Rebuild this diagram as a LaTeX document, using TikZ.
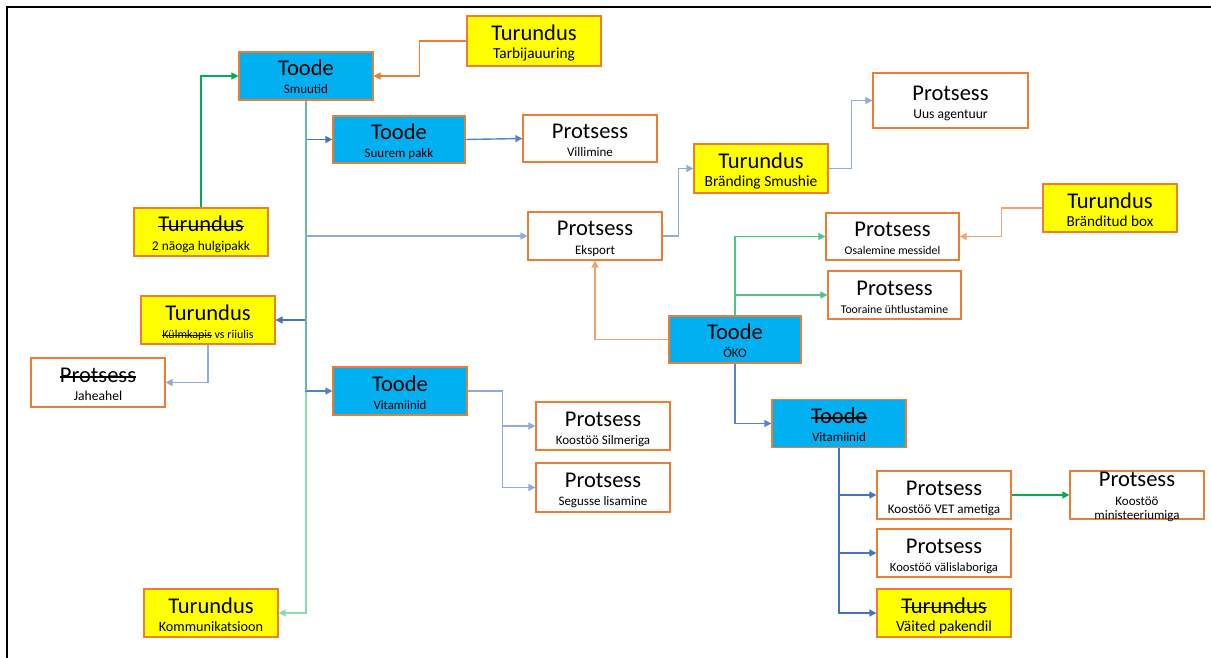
\documentclass[tikz,border=0pt]{standalone}
\usepackage{fontspec}
\setmainfont{Carlito}
\usetikzlibrary{arrows.meta}
\definecolor{boxblue}{HTML}{00B0F0}
\definecolor{boxyel}{HTML}{FFFF00}
\definecolor{bord}{HTML}{ED7D31}
\definecolor{cblue}{HTML}{4472C4}
\definecolor{cblueL}{HTML}{8FAADC}
\definecolor{cgreen}{HTML}{00B050}
\definecolor{cgreenL}{HTML}{4CC683}
\definecolor{cgreenP}{HTML}{8ADCB0}
\definecolor{cteal}{HTML}{66BBA5}
\definecolor{corange}{HTML}{ED7D31}
\definecolor{corangeL}{HTML}{F4A070}
\newcommand\strk[1]{\setbox0\hbox{#1}\rlap{\rule[0.22em]{\wd0}{0.055em}}\box0\relax}
\tikzset{
 nbox/.style={draw=bord,line width=1.2pt,rectangle,inner sep=0pt},
 bbl/.style={fill=boxblue},
 byl/.style={fill=boxyel},
 bwh/.style={fill=white},
 ttl/.style={anchor=base,inner sep=0pt,font=\fontsize{22.5}{27}\selectfont},
 sb/.style={anchor=base,inner sep=0pt},
 conn/.style={line width=1.4pt,-{Triangle[length=7pt,width=7pt]}},
}
\newcommand\mkbox[8]{%
  \node[nbox,#5,minimum width=#3,minimum height=#4] (#1) at #2 {};
  \node[ttl] (#1-t) at (#1.center) {#6};
  \node[sb,font=\fontsize{#8}{#8}\selectfont] (#1-s) at ([yshift=-18pt]#1.center) {#7};
}
\begin{document}
\begin{tikzpicture}[x=1pt,y=-1pt]
\useasboundingbox (0,0) rectangle (1211,658);
\draw[line width=2pt] (7,659) -- (7,7) -- (1212,7);

\mkbox{tarb}{(534,41)}{134}{50}{byl}{Turundus}{Tarbijauuring}{15.3}
\mkbox{smu}{(306,76)}{134}{48}{bbl}{Toode}{Smuutid}{13}
\mkbox{spk}{(399,139.5)}{132}{47}{bbl}{Toode}{Suurem pakk}{13}
\mkbox{vil}{(590,138.5)}{134}{47}{bwh}{Protsess}{Villimine}{13}
\mkbox{hulg}{(201,232)}{134}{48}{byl}{\strk{Turundus}}{2 näoga hulgipakk}{13.4}
\mkbox{eks}{(595,236)}{134}{48}{bwh}{Protsess}{Eksport}{13}
\mkbox{kulm}{(208,320)}{134}{48}{byl}{Turundus}{\strk{Külmkapis} vs riiulis}{12}
\mkbox{jah}{(98,382.5)}{134}{49}{bwh}{\strk{Protsess}}{Jaheahel}{13.6}
\mkbox{vit}{(400,391)}{134}{48}{bbl}{Toode}{Vitamiinid}{12.8}
\mkbox{silm}{(603,426)}{134}{48}{bwh}{Protsess}{Koostöö Silmeriga}{13}
\mkbox{seg}{(603,487.5)}{134}{49}{bwh}{Protsess}{Segusse lisamine}{13}
\mkbox{komm}{(211,613)}{134}{48}{byl}{Turundus}{Kommunikatsioon}{14.2}
\mkbox{uus}{(950.5,100.5)}{155}{55}{bwh}{Protsess}{Uus agentuur}{13.6}
\mkbox{brand}{(761,168.5)}{134}{49}{byl}{Turundus}{Bränding Smushie}{15.5}
\mkbox{bbox}{(1110,208)}{134}{48}{byl}{Turundus}{Bränditud box}{15.2}
\mkbox{osal}{(892.5,236.5)}{133}{47}{bwh}{Protsess}{Osalemine messidel}{11.8}
\mkbox{toor}{(894.5,295)}{133}{48}{bwh}{Protsess}{Tooraine ühtlustamine}{11.8}
\mkbox{oko}{(735,339.5)}{132}{47}{bbl}{Toode}{ÖKO}{13}
\mkbox{vit2}{(839,423.5)}{134}{48}{bbl}{\strk{Toode}}{Vitamiinid}{13}
\mkbox{vet}{(944,495)}{134}{48}{bwh}{Protsess}{Koostöö VET ametiga}{13.1}
\mkbox{val}{(944,553)}{134}{48}{bwh}{Protsess}{Koostöö välislaboriga}{12.6}
\mkbox{vait}{(944,613)}{134}{48}{byl}{\strk{Turundus}}{Väited pakendil}{15.4}

\node[nbox,bwh,minimum width=134,minimum height=48] (min) at (1137,495) {};
\node[ttl] (min-t) at ([yshift=9pt]min.center) {Protsess};
\node[sb,font=\fontsize{13}{13}\selectfont] (min-s1) at ([yshift=-10pt]min.center) {Koostöö};
\node[sb,font=\fontsize{13}{13}\selectfont] (min-s2) at ([yshift=-24pt]min.center) {ministeeriumiga};

% trunk from Smuutid
\draw[conn,cgreenP] (smu.south) |- (komm.east);
\draw[conn,cblue] (smu.south) |- (spk.west);
\draw[conn,cblueL] (smu.south) |- (eks.west);
\draw[conn,cblue] (smu.south) |- (kulm.east);
\draw[conn,cblue!75!cblueL] (smu.south) |- (vit.west);
\draw[line width=1.4pt,cteal] (smu.south) -- (smu.south |- vit.west);

\draw[conn,cgreen] (hulg.north) |- (smu.west);
\draw[conn,corange] (tarb.west) -- ++(-47,0) |- (smu.east);
\draw[conn,cblue!70!cblueL] (spk.east) -- (vil.west);
\draw[conn,cblueL] (eks.east) -- ++(16,0) |- (brand.west);
\draw[conn,cblueL] (brand.east) -- ++(23,0) |- (uus.west);
\draw[conn,corangeL] (oko.west) -| (eks.south);
\draw[conn,cgreenL] (oko.north) |- (osal.west);
\draw[conn,cgreenL] (oko.north) |- (toor.west);
\draw[conn,corangeL] (bbox.west) -- ++(-41,0) |- (osal.east);
\draw[conn,cblue!70!cblueL] (oko.south) |- (vit2.west);
\draw[conn,cblueL] (vit.east) -- ++(35,0) |- (silm.west);
\draw[conn,cblueL] (vit.east) -- ++(35,0) |- (seg.west);
\draw[conn,cblueL] (kulm.south) |- (jah.east);
\draw[conn,cblue] (vit2.south) |- (vet.west);
\draw[conn,cblue] (vit2.south) |- (val.west);
\draw[conn,cblue] (vit2.south) |- (vait.west);
\draw[conn,cgreen] (vet.east) -- (min.west);
\end{tikzpicture}
\end{document}
